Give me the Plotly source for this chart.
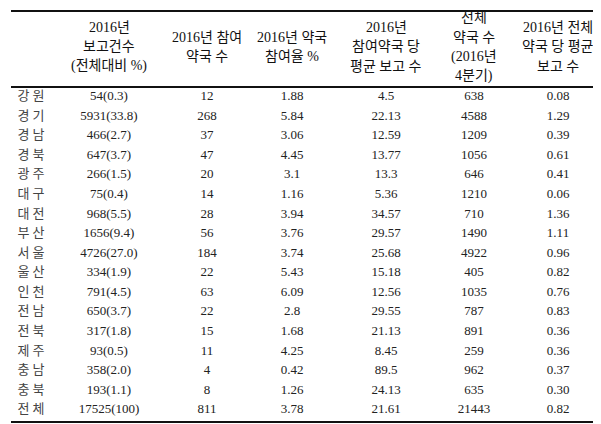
import plotly.graph_objects as go

# 표 데이터
regions = ['강 원', '경 기', '경 남', '경 북', '광 주', '대 구', '대 전', '부 산', '서 울',
           '울 산', '인 천', '전 남', '전 북', '제 주', '충 남', '충 북', '전 체']
reports = ['54(0.3)', '5931(33.8)', '466(2.7)', '647(3.7)', '266(1.5)', '75(0.4)',
           '968(5.5)', '1656(9.4)', '4726(27.0)', '334(1.9)', '791(4.5)', '650(3.7)',
           '317(1.8)', '93(0.5)', '358(2.0)', '193(1.1)', '17525(100)']
participants = ['12', '268', '37', '47', '20', '14', '28', '56', '184', '22', '63',
                '22', '15', '11', '4', '8', '811']
participation_rate = ['1.88', '5.84', '3.06', '4.45', '3.1', '1.16', '3.94', '3.76',
                      '3.74', '5.43', '6.09', '2.8', '1.68', '4.25', '0.42', '1.26', '3.78']
avg_per_participant = ['4.5', '22.13', '12.59', '13.77', '13.3', '5.36', '34.57', '29.57',
                       '25.68', '15.18', '12.56', '29.55', '21.13', '8.45', '89.5', '24.13', '21.61']
total_pharmacies = ['638', '4588', '1209', '1056', '646', '1210', '710', '1490', '4922',
                    '405', '1035', '787', '891', '259', '962', '635', '21443']
avg_per_pharmacy = ['0.08', '1.29', '0.39', '0.61', '0.41', '0.06', '1.36', '1.11', '0.96',
                    '0.82', '0.76', '0.83', '0.36', '0.36', '0.37', '0.30', '0.82']

headers = [[],
           ['2016년', '보고건수', '(전체대비 %)'],
           ['2016년 참여', '약국 수'],
           ['2016년 약국', '참여율 %'],
           ['2016년', '참여약국 당', '평균 보고 수'],
           ['전체', '약국 수', '(2016년', '4분기)'],
           ['2016년 전체', '약국 당 평균', '보고 수']]

columns = [regions, reports, participants, participation_rate,
           avg_per_participant, total_pharmacies, avg_per_pharmacy]

# 레이아웃 (열 중심 위치, px)
col_x = [23, 101, 199, 284, 378, 466, 550]
W, H = 601, 424
row_h = 19.56
first_row = 89
head_mid = 39
head_lh = 19.5

serif = 'Liberation Serif, Noto Sans CJK KR, serif'
body_font = dict(family=serif, size=13, color='#222')
head_font = dict(family=serif, size=14, color='#111')
region_font = dict(family=serif, size=13, color='#444')

fig = go.Figure()
for i, (cx, col) in enumerate(zip(col_x, columns)):
    fig.add_trace(go.Scatter(
        x=[cx] * len(col), y=list(range(len(col))),
        mode='text', text=col, textposition='middle center',
        textfont=region_font if i == 0 else body_font,
        hoverinfo='skip', showlegend=False
    ))

# 헤더 (한 줄씩)
for cx, lines in zip(col_x, headers):
    n = len(lines)
    for k, t in enumerate(lines):
        yp = head_mid + (k - (n - 1) / 2) * head_lh
        fig.add_annotation(x=cx, y=1 - yp / H, xref='x', yref='paper', text=t,
                           showarrow=False, font=head_font, yanchor='middle')

# y 축: 행 번호 -> 픽셀 위치
y_top = -first_row / row_h
y_bot = (H - first_row) / row_h

fig.update_layout(
    width=W, height=H,
    margin=dict(l=0, r=0, t=0, b=0),
    paper_bgcolor='white', plot_bgcolor='white',
    xaxis=dict(range=[0, W], visible=False, fixedrange=True),
    yaxis=dict(range=[y_bot, y_top], visible=False, fixedrange=True),
)

# 가로선
for yp in [3, 79, 414]:
    fig.add_shape(type='line', xref='x', yref='paper', x0=3, x1=593,
                  y0=1 - yp / H, y1=1 - yp / H, line=dict(color='#111', width=2))

fig.write_html('out.html')
